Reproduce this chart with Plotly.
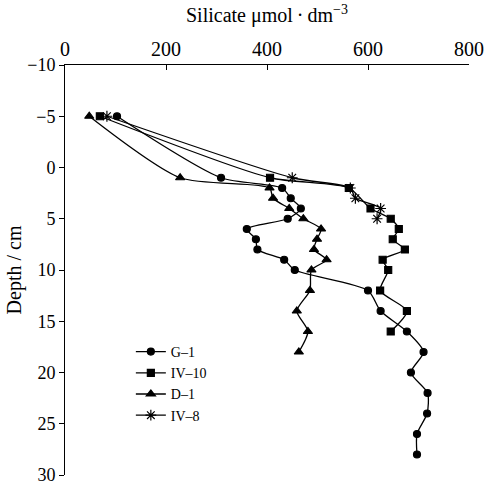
import plotly.graph_objects as go

g1_depth = [-5, 1, 2, 3, 4, 5, 6, 7, 8, 9, 10, 12, 14, 16, 18, 20, 22, 24, 26, 28]
g1_si = [103, 309, 430, 447, 467, 441, 360, 378, 381, 434, 455, 600, 625, 677, 710, 685, 718, 717, 697, 697]

iv10_depth = [-5, 1, 2, 4, 5, 6, 7, 8, 9, 10, 12, 14, 16]
iv10_si = [69, 406, 562, 605, 645, 661, 649, 673, 629, 640, 624, 677, 645]

d1_depth = [-5, 1, 2, 3, 4, 5, 6, 7, 8, 9, 10, 12, 14, 16, 18]
d1_si = [48, 228, 405, 412, 444, 472, 507, 499, 493, 518, 488, 485, 459, 481, 463]

iv8_depth = [-5, 1, 2, 3, 4, 5]
iv8_si = [83, 450, 565, 575, 625, 618]

x_ticks = [0, 200, 400, 600, 800]
y_ticks = [-10, -5, 0, 5, 10, 15, 20, 25, 30]

FONT = "Liberation Serif"

series = [
    ("G–1", g1_si, g1_depth, "circle", 7),
    ("IV–10", iv10_si, iv10_depth, "square", 7),
    ("D–1", d1_si, d1_depth, "triangle-up", 8),
    ("IV–8", iv8_si, iv8_depth, "asterisk-open", 9),
]

fig = go.Figure()
for name, xs, ys, sym, sz in series:
    fig.add_trace(go.Scatter(
        x=xs, y=ys, name=name, mode="lines+markers",
        line=dict(color="black", width=1.3, shape="spline", smoothing=0.7),
        marker=dict(symbol=sym, size=sz, color="black",
                    line=dict(color="black", width=1.2)),
    ))

fig.add_annotation(
    text="Silicate μmol\u2009·\u2009dm<sup>−3</sup>",
    xref="paper", yref="paper", x=0.5, y=1.122,
    xanchor="center", yanchor="middle", showarrow=False,
    font=dict(size=20, family=FONT, color="black"),
)

fig.update_layout(
    width=484, height=482,
    margin=dict(l=65, r=15, t=65, b=7),
    paper_bgcolor="white", plot_bgcolor="white",
    font=dict(family=FONT, size=20, color="black"),
    showlegend=True,
    legend=dict(x=0.163, y=0.339, xanchor="left", yanchor="top",
                bgcolor="rgba(0,0,0,0)", font=dict(size=14, family=FONT),
                itemwidth=30, tracegroupgap=0),
    xaxis=dict(
        side="top", range=[0, 800], tickvals=x_ticks,
        ticks="inside", ticklen=5, tickcolor="black",
        showline=True, linecolor="black", linewidth=1,
        showgrid=False, zeroline=False, automargin=False,
        ticklabeloverflow="allow",
        tickfont=dict(size=20, family=FONT),
    ),
    yaxis=dict(
        range=[30, -10], tickvals=y_ticks,
        ticks="outside", ticklen=5, tickcolor="black",
        showline=True, linecolor="black", linewidth=1,
        showgrid=False, zeroline=False, automargin=False,
        ticklabeloverflow="allow",
        title=dict(text="Depth / cm", standoff=0,
                   font=dict(size=20, family=FONT)),
        tickfont=dict(size=18, family=FONT),
    ),
)

fig.write_html("out.html",
               config={"displayModeBar": False},
               post_script="document.body.style.margin='0';document.body.style.overflow='hidden';")
